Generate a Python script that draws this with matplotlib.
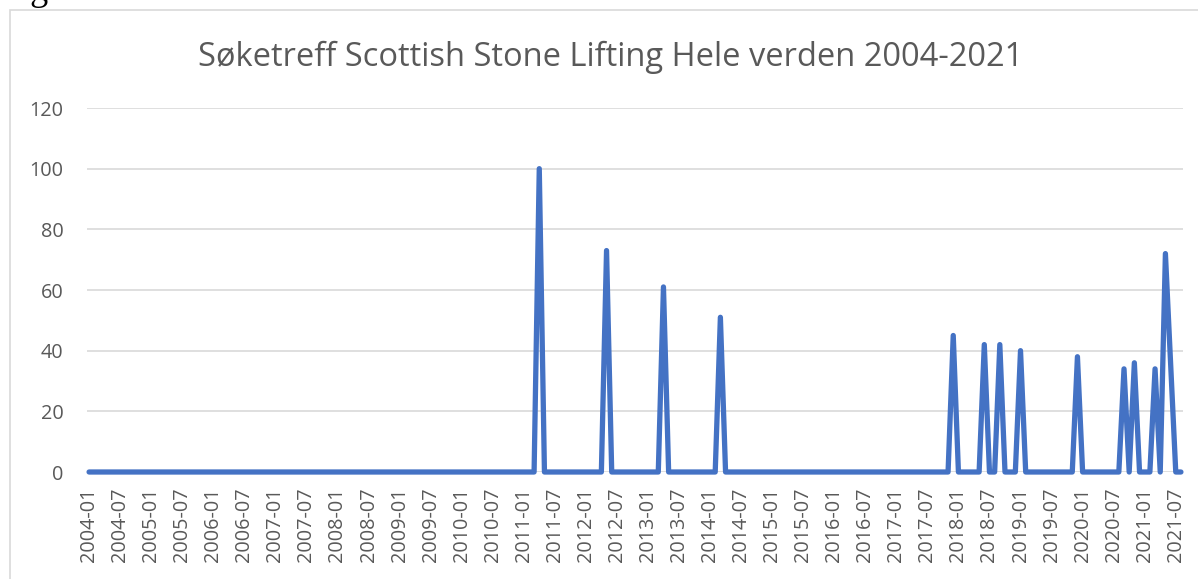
import numpy as np
import matplotlib
matplotlib.use('Agg')
import matplotlib.pyplot as plt
from matplotlib.patches import Rectangle

plt.rcParams['font.family'] = ['Open Sans', 'DejaVu Sans']

# Månedlige søketreff, 2004-01 til 2021-08 (0 der ikke annet er oppgitt)
start_aar = 2004
antall_mnd = 212
topper = {
    '2011-04': 100, '2012-05': 73, '2013-04': 61, '2014-03': 51,
    '2017-12': 45, '2018-06': 42, '2018-09': 42, '2019-01': 40,
    '2019-12': 38, '2020-09': 34, '2020-11': 36, '2021-03': 34,
    '2021-05': 72, '2021-06': 36,
}

maaneder = [f"{start_aar + i // 12}-{i % 12 + 1:02d}" for i in range(antall_mnd)]
verdier = [topper.get(m, 0) for m in maaneder]
x = np.arange(antall_mnd)

grid_farge = '#D9D9D9'
tekst_farge = '#595959'

fig = plt.figure(figsize=(11.98, 5.79), dpi=100)
W, H = 1198, 579

# ramme rundt diagrammet
fig.patches.append(Rectangle((10 / W, -0.1), 1.2, 1 - 10 / H + 0.1, transform=fig.transFigure,
                             fill=False, edgecolor=grid_farge, linewidth=1.2))
# figurteksten over er nesten klippet bort i originalen
fig.text(0, 1 - 0.5 / H, 'Figur 5', fontsize=26, family='Liberation Serif',
         color='black', va='baseline', ha='left')

ax = fig.add_axes([87 / W, (H - 472) / H, (1183 - 87) / W, (472 - 108) / H])
ax.plot(x, verdier, color='#4472C4', linewidth=3.8, solid_joinstyle='round',
        solid_capstyle='round', clip_on=False, zorder=3)

ax.set_ylim(0, 120)
ax.set_xlim(-0.4, antall_mnd - 0.6)
ax.set_yticks(range(0, 121, 20))
ax.set_xticks(x[::6])
ax.set_xticklabels(maaneder[::6], rotation=90)
ax.tick_params(axis='both', length=0, labelsize=14.3, labelcolor=tekst_farge)
ax.tick_params(axis='y', pad=17)
ax.tick_params(axis='x', pad=11)
ax.grid(axis='y', color=grid_farge, linewidth=1.2)
ax.set_axisbelow(True)
for s in ax.spines.values():
    s.set_visible(False)

fig.text(611 / W, 1 - 57 / H, 'Søketreff Scottish Stone Lifting Hele verden 2004-2021',
         fontsize=23.5, color=tekst_farge, ha='center', va='center')

fig.savefig('out.png', dpi=100)
